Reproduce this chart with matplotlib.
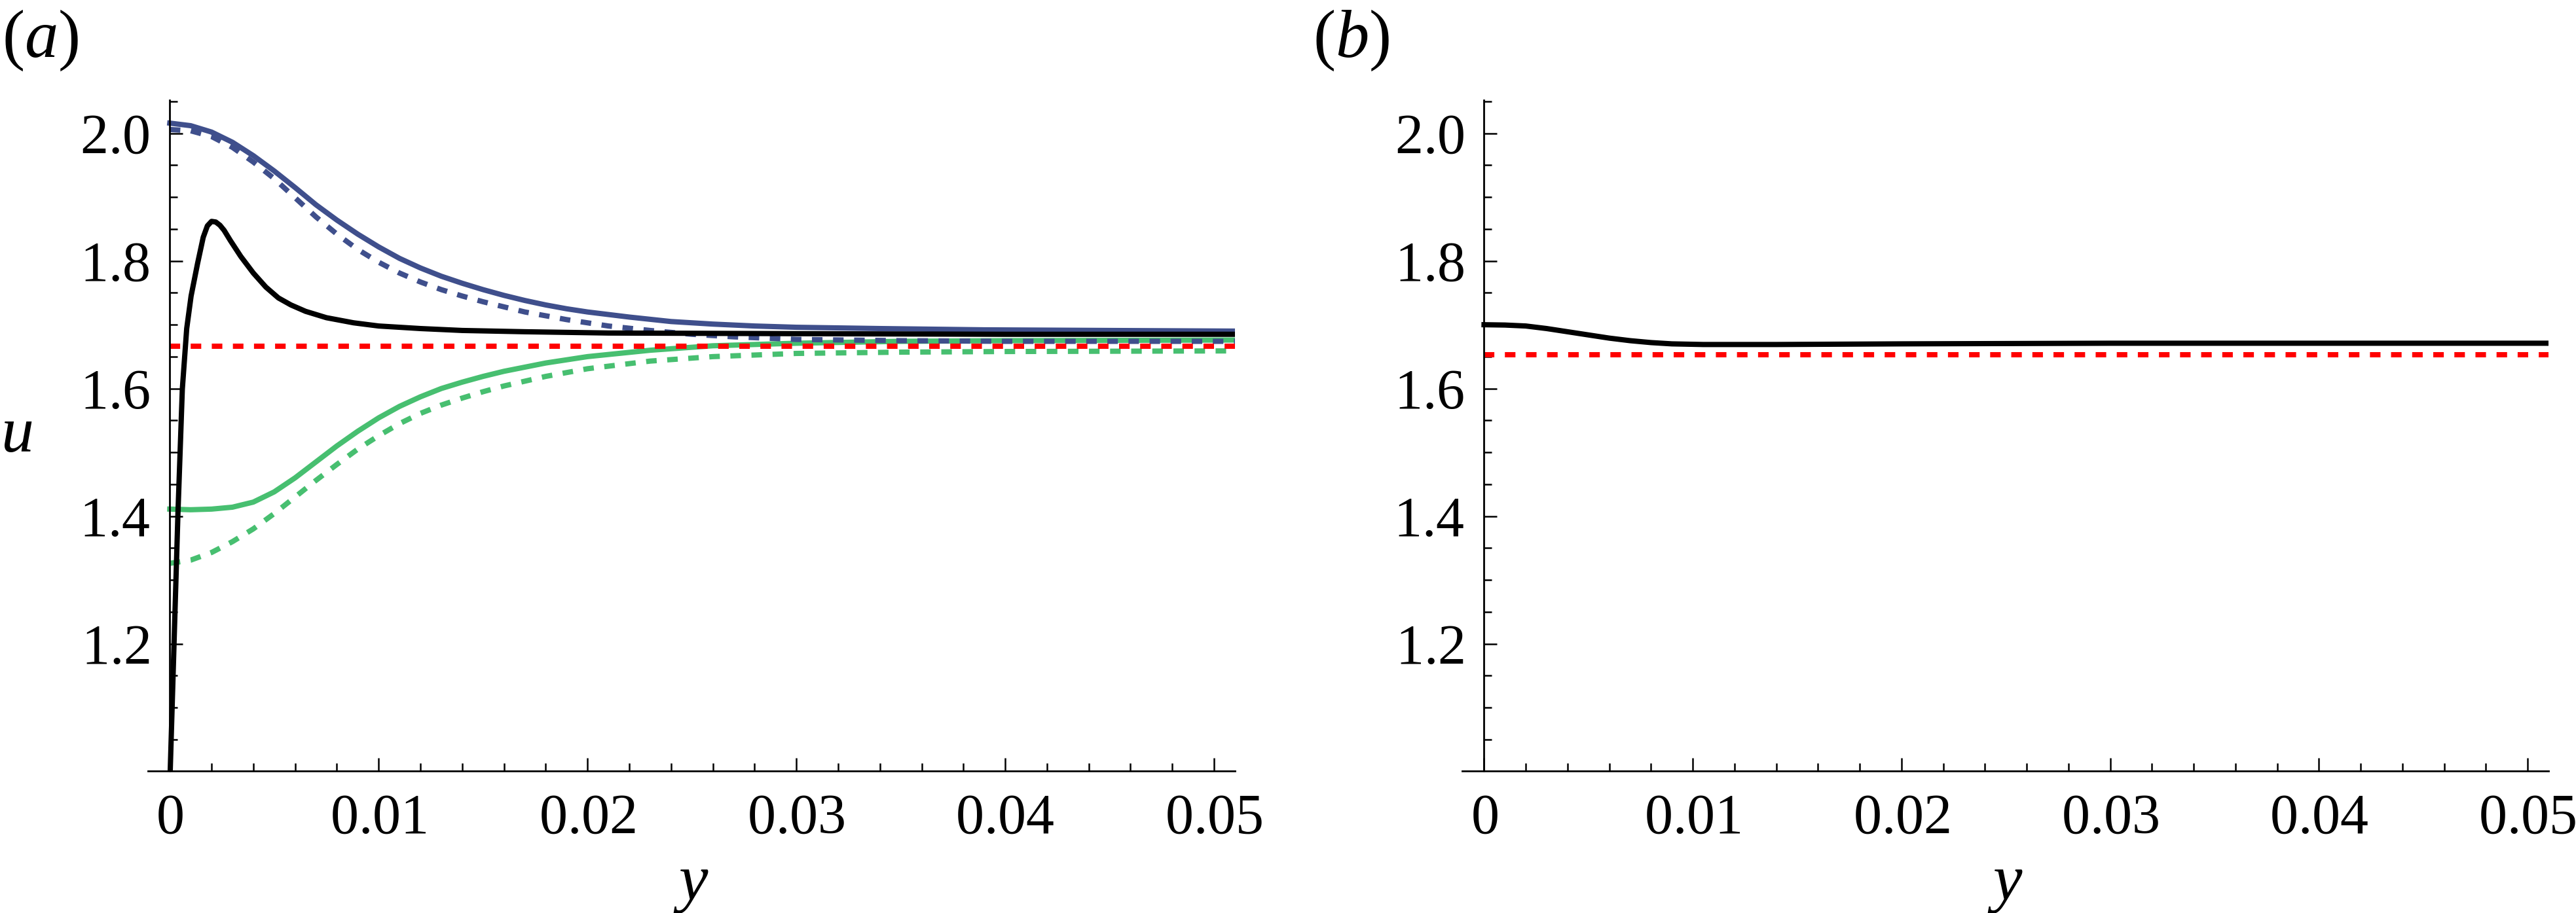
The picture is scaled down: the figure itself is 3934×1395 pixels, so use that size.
import numpy as np
import matplotlib
matplotlib.use("Agg")
import matplotlib.pyplot as plt
from matplotlib.ticker import FixedLocator

plt.rcParams['font.family'] = 'Liberation Serif'
plt.rcParams['mathtext.fontset'] = 'custom'
plt.rcParams['mathtext.rm'] = 'Liberation Serif'
plt.rcParams['mathtext.it'] = 'Liberation Serif:italic'

# ---- panel (a) data ----
blue_x = [0, 0.001, 0.002, 0.003, 0.004, 0.005, 0.006, 0.007, 0.008, 0.009, 0.010,
          0.011, 0.012, 0.013, 0.014, 0.015, 0.016, 0.017, 0.018, 0.019, 0.020,
          0.022, 0.024, 0.026, 0.028, 0.030, 0.034, 0.039, 0.045, 0.051]
blue_u = [2.016, 2.012, 2.002, 1.986, 1.965, 1.941, 1.915, 1.888, 1.864, 1.842, 1.822,
          1.804, 1.789, 1.776, 1.765, 1.755, 1.746, 1.738, 1.731, 1.725, 1.720,
          1.712, 1.705, 1.701, 1.698, 1.696, 1.694, 1.692, 1.691, 1.690]

blue_dash_x = [0, 0.001, 0.002, 0.003, 0.004, 0.005, 0.006, 0.007, 0.008, 0.009, 0.010,
               0.011, 0.012, 0.013, 0.014, 0.015, 0.016, 0.017, 0.018, 0.019, 0.020,
               0.021, 0.023, 0.025, 0.027, 0.030, 0.035, 0.040, 0.051]
blue_dash_u = [2.006, 2.004, 1.995, 1.978, 1.955, 1.929, 1.899, 1.869, 1.842, 1.818, 1.798,
               1.781, 1.767, 1.755, 1.745, 1.736, 1.728, 1.720, 1.714, 1.708, 1.703,
               1.698, 1.691, 1.685, 1.681, 1.677, 1.675, 1.674, 1.674]

black_x = [0.00002, 0.000185, 0.00039, 0.0006, 0.00081, 0.00102, 0.00133, 0.0016, 0.0018,
           0.0020, 0.0022, 0.0024, 0.0026, 0.0029, 0.0034, 0.0040, 0.0046, 0.0052, 0.0058,
           0.0065, 0.0075, 0.0088, 0.0100, 0.0120, 0.0140, 0.0170, 0.0210, 0.030, 0.040,
           0.051]
black_u = [1.0, 1.18, 1.404, 1.599, 1.694, 1.745, 1.796, 1.837, 1.855,
           1.862, 1.861, 1.856, 1.848, 1.832, 1.807, 1.781, 1.759, 1.742, 1.731,
           1.721, 1.711, 1.703, 1.698, 1.694, 1.691, 1.689, 1.687, 1.686, 1.685,
           1.685]

green_x = [0, 0.001, 0.002, 0.003, 0.004, 0.005, 0.006, 0.007, 0.008, 0.009, 0.010,
           0.011, 0.012, 0.013, 0.014, 0.015, 0.016, 0.018, 0.020, 0.023, 0.026,
           0.030, 0.035, 0.040, 0.051]
green_u = [1.411, 1.410, 1.411, 1.414, 1.422, 1.438, 1.460, 1.485, 1.510, 1.533, 1.554,
           1.572, 1.587, 1.600, 1.610, 1.619, 1.627, 1.640, 1.650, 1.660, 1.667,
           1.671, 1.674, 1.675, 1.676]

green_dash_x = [0, 0.001, 0.002, 0.003, 0.004, 0.005, 0.006, 0.007, 0.008, 0.009, 0.010,
                0.011, 0.012, 0.013, 0.014, 0.015, 0.016, 0.018, 0.020, 0.023, 0.026,
                0.030, 0.035, 0.040, 0.051]
green_dash_u = [1.326, 1.331, 1.343, 1.360, 1.380, 1.404, 1.430, 1.456, 1.481, 1.505, 1.526,
                1.545, 1.561, 1.574, 1.585, 1.595, 1.604, 1.619, 1.631, 1.643, 1.650,
                1.655, 1.657, 1.658, 1.659]

red_a_x = [0, 0.051]
red_a_u = [1.666, 1.666]

# ---- panel (b) data ----
black_b_x = [0, 0.001, 0.002, 0.003, 0.004, 0.005, 0.006, 0.007, 0.008, 0.009, 0.0105,
             0.014, 0.020, 0.030, 0.040, 0.051]
black_b_u = [1.700, 1.6995, 1.698, 1.694, 1.689, 1.684, 1.679, 1.675, 1.672, 1.670, 1.669,
             1.669, 1.670, 1.671, 1.671, 1.671]

red_b_x = [0, 0.051]
red_b_u = [1.653, 1.653]

x_ticks = [0, 0.01, 0.02, 0.03, 0.04, 0.05]
x_labels = ['0', '0.01', '0.02', '0.03', '0.04', '0.05']
y_ticks = [1.2, 1.4, 1.6, 1.8, 2.0]
y_labels = ['1.2', '1.4', '1.6', '1.8', '2.0']

BLUE = '#3F4F8C'
GREEN = '#47BF70'
RED = '#FF0000'
LW = 2.9
DASH = (0, (2.0, 2.0))

fig = plt.figure(figsize=(3934 / 200, 1395 / 200), dpi=200)
ax_a = fig.add_axes([0.0574, 0.1552, 0.4220, 0.7351])
ax_b = fig.add_axes([0.5676, 0.1552, 0.4217, 0.7351])


def style_axes(ax):
    for s in ['top', 'right']:
        ax.spines[s].set_visible(False)
    ax.spines['left'].set_position(('data', 0))
    ax.spines['left'].set_linewidth(1.0)
    ax.spines['bottom'].set_linewidth(1.0)
    ax.set_xlim(-0.00105, 0.0510)
    ax.set_ylim(1.0, 2.052)
    ax.xaxis.set_minor_locator(FixedLocator([i * 0.002 for i in range(26) if i % 5]))
    ax.yaxis.set_minor_locator(FixedLocator([1.0 + i * 0.05 for i in range(22) if i % 4 and i != 0]))
    ax.tick_params(which='both', direction='in', width=0.9, labelsize=31)
    ax.tick_params(which='major', length=7.2)
    ax.tick_params(which='minor', length=4.3)
    ax.tick_params(axis='x', which='major', pad=12)
    ax.tick_params(axis='y', which='major', pad=11)
    # mathrm keeps the labels in the same serif face as the axis labels
    ax.set_xticks(x_ticks, [r'$\mathrm{%s}$' % s for s in x_labels])
    ax.set_yticks(y_ticks, [r'$\mathrm{%s}$' % s for s in y_labels])
    ax.set_xlabel('$y$', fontsize=36)
    ax.xaxis.set_label_coords(0.5, -0.17)
    ax.xaxis.label.set_va('center')


# panel (a)
ax_a.plot(green_x, green_u, color=GREEN, lw=LW)
ax_a.plot(green_dash_x, green_dash_u, color=GREEN, lw=LW, linestyle=DASH)
ax_a.plot(blue_x, blue_u, color=BLUE, lw=LW)
ax_a.plot(blue_dash_x, blue_dash_u, color=BLUE, lw=LW, linestyle=DASH)
ax_a.plot(red_a_x, red_a_u, color=RED, lw=LW, linestyle=DASH)
ax_a.plot(black_x, black_u, color='black', lw=LW)
style_axes(ax_a)
ax_a.set_ylabel('$u$', fontsize=36, rotation=0)
ax_a.yaxis.set_label_coords(-0.121, 0.5)
ax_a.yaxis.label.set_va('center')
ax_a.yaxis.label.set_ha('center')

# panel (b)
ax_b.plot(red_b_x, red_b_u, color=RED, lw=LW, linestyle=DASH)
ax_b.plot(black_b_x, black_b_u, color='black', lw=LW)
style_axes(ax_b)

fig.text(0.0008, 0.991, '$(a)$', fontsize=37, va='top', ha='left')
fig.text(0.5097, 0.991, '$(b)$', fontsize=37, va='top', ha='left')

fig.savefig('out.png', dpi=200)
